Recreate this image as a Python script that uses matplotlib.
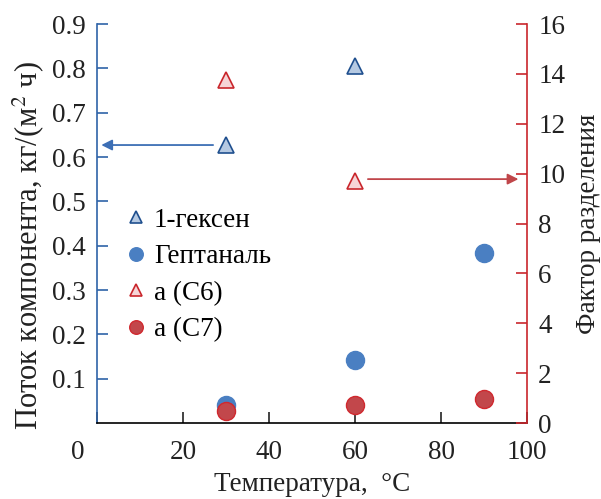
import numpy as np
import matplotlib
matplotlib.use("Agg")
from matplotlib import pyplot as plt
from matplotlib import transforms


# temperature, deg C
temp_hexene = [30, 60]
flux_hexene = [0.627, 0.805]
temp_heptanal = [30, 60, 90]
flux_heptanal = [0.04, 0.142, 0.384]

temp_a6 = [30, 60]
alpha_c6 = [13.75, 9.7]
temp_a7 = [30, 60, 90]
alpha_c7 = [0.48, 0.72, 0.98]

x_ticks = [0, 20, 40, 60, 80, 100]
left_ticks = [0.1, 0.2, 0.3, 0.4, 0.5, 0.6, 0.7, 0.8, 0.9]
right_ticks = [0, 2, 4, 6, 8, 10, 12, 14, 16]

RED = "#c9262c"
FS = 19.5

plt.rcParams["font.family"] = ["Liberation Serif", "DejaVu Serif"]
plt.rcParams["mathtext.fontset"] = "stix"

fig = plt.figure(figsize=(6.01, 4.99), dpi=100)
ax = fig.add_axes([0.1614, 0.1523, 0.7155, 0.7996])
ax2 = ax.twinx()

ax.set_xlim(0, 100)
ax.set_ylim(0, 0.9)
ax2.set_ylim(0, 16)

h1, = ax.plot(temp_hexene, flux_hexene, ls="none", marker="^", ms=11,
              mfc="#b5c9e2", mec="#1f4f8e", mew=1.2, label="1-гексен")
h2, = ax.plot(temp_heptanal, flux_heptanal, ls="none", marker="o", ms=13,
              mfc="#4a7fc2", mec="#4a7fc2", label="Гептаналь")
h3, = ax2.plot(temp_a6, alpha_c6, ls="none", marker="^", ms=11,
               mfc="#f6d5d7", mec=RED, mew=1.2, label="a (C6)")
h4, = ax2.plot(temp_a7, alpha_c7, ls="none", marker="o", ms=13,
               mfc="#c2474b", mec="#d0282e", mew=1.0, label="a (C7)")

# arrows pointing each series to its axis
ax.annotate("", xy=(1, flux_hexene[0]), xytext=(27, flux_hexene[0]),
            arrowprops=dict(arrowstyle="-|>", color="#3d6fb5", lw=1.3,
                            mutation_scale=16, shrinkA=0, shrinkB=0))
ax2.annotate("", xy=(98, alpha_c6[1] + 0.08), xytext=(63, alpha_c6[1] + 0.08),
             arrowprops=dict(arrowstyle="-|>", color="#c0464a", lw=1.3,
                             mutation_scale=16, shrinkA=0, shrinkB=0))

for a in (ax, ax2):
    a.spines["top"].set_visible(False)
ax.spines["left"].set_color("#2f63a8")
ax.spines["left"].set_linewidth(1.2)
ax.spines["right"].set_visible(False)
ax2.spines["left"].set_visible(False)
ax2.spines["bottom"].set_visible(False)
ax2.spines["right"].set_color(RED)
ax2.spines["right"].set_linewidth(1.2)
ax.spines["bottom"].set_linewidth(1.2)

ax.set_xticks(x_ticks)
ax.set_yticks(left_ticks)
ax.set_yticklabels([f"{v:.1f}" for v in left_ticks])
ax2.set_yticks(right_ticks)

ax.tick_params(axis="x", direction="in", length=8, width=1.2,
               labelsize=FS, pad=12, colors="#222222")
ax.tick_params(axis="y", direction="in", length=8, width=1.2,
               labelsize=FS, pad=8, color="#2f63a8", labelcolor="#222222")
ax2.tick_params(axis="y", direction="in", length=8, width=1.2,
                labelsize=FS, pad=8, color=RED, labelcolor="#222222")

# nudge the "0" label away from the left axis
fig.canvas.draw()
xlabels = ax.get_xticklabels()
xlabels[0].set_transform(xlabels[0].get_transform() +
                         transforms.ScaledTranslation(-0.19, 0, fig.dpi_scale_trans))

ax.set_xlabel("Температура,  °С", fontsize=FS, labelpad=5, color="#222222")
ax.set_ylabel("Поток компонента, кг/(м$^2$ ч)", fontsize=22, labelpad=4,
              color="#222222")
ax.yaxis.label.set_y(0.445)
ax2.set_ylabel("Фактор разделения", fontsize=FS, labelpad=8, color="#222222")

ax.legend(handles=[h1, h2, h3, h4], loc="upper left",
          bbox_to_anchor=(0.0, 0.6), frameon=False, fontsize=FS,
          handletextpad=0.1, labelspacing=0.42, handlelength=1.1,
          markerscale=0.75)

fig.savefig("out.png", dpi=100)
